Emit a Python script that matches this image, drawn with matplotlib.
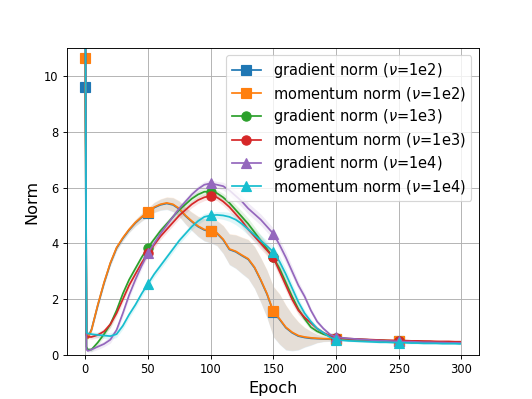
import numpy as np
import matplotlib
matplotlib.use("Agg")
import matplotlib.pyplot as plt

epochs = [0, 1, 2] + list(range(5, 300, 5)) + [299]
marker_epochs = [0, 50, 100, 150, 200, 250]

grad_1e2 = [9.6, 0.72, 0.62, 0.92, 1.78, 2.58, 3.28, 3.83, 4.18, 4.48,
            4.73, 4.93, 5.1, 5.28, 5.38, 5.43, 5.38, 5.23, 4.98, 4.78,
            4.6, 4.48, 4.43, 4.36, 4.13, 3.78, 3.7, 3.56, 3.43, 3.13,
            2.68, 2.18, 1.55, 1.28, 0.98, 0.8, 0.68, 0.63, 0.6, 0.59,
            0.58, 0.57, 0.57,
            0.56, 0.55, 0.54, 0.54, 0.53, 0.52, 0.52, 0.51, 0.5, 0.49,
            0.49, 0.49, 0.48, 0.48, 0.47, 0.47, 0.46, 0.46, 0.45, 0.45]
mom_1e2 = [10.65, 0.75, 0.6, 0.9, 1.8, 2.6, 3.3, 3.85, 4.2, 4.5,
           4.75, 4.95, 5.12, 5.3, 5.4, 5.45, 5.4, 5.25, 5.0, 4.8,
           4.62, 4.5, 4.45, 4.38, 4.15, 3.8, 3.72, 3.58, 3.45, 3.15,
           2.7, 2.2, 1.57, 1.3, 1.0, 0.82, 0.7, 0.65, 0.62, 0.6,
           0.59, 0.58, 0.58,
           0.57, 0.56, 0.55, 0.55, 0.54, 0.53, 0.53, 0.52, 0.51, 0.5,
           0.5, 0.5, 0.49, 0.49, 0.48, 0.48, 0.47, 0.47, 0.46, 0.46]
grad_1e3 = [14.0, 0.3, 0.2, 0.2, 0.45, 0.75, 1.1, 1.6, 2.2, 2.7,
            3.1, 3.5, 3.85, 4.15, 4.45, 4.7, 4.95, 5.2, 5.4, 5.6,
            5.75, 5.85, 5.85, 5.8, 5.65, 5.45, 5.2, 4.95, 4.7, 4.4,
            4.1, 3.8, 3.5, 3.1, 2.6, 2.1, 1.65, 1.3, 1.0, 0.85,
            0.75, 0.68, 0.62,
            0.6, 0.58, 0.57, 0.56, 0.55, 0.54, 0.53, 0.52, 0.51, 0.5,
            0.5, 0.49, 0.49, 0.48, 0.48, 0.47, 0.47, 0.46, 0.46, 0.45]
mom_1e3 = [14.0, 0.7, 0.65, 0.65, 0.72, 0.85, 1.1, 1.5, 2.0, 2.5,
           2.9, 3.3, 3.65, 3.95, 4.25, 4.5, 4.75, 5.0, 5.2, 5.4,
           5.55, 5.65, 5.7, 5.65, 5.5, 5.3, 5.05, 4.8, 4.5, 4.25,
           4.0, 3.75, 3.5, 3.0, 2.5, 2.0, 1.6, 1.35, 1.15, 0.95,
           0.8, 0.7, 0.62,
           0.6, 0.59, 0.58, 0.57, 0.56, 0.55, 0.54, 0.53, 0.53, 0.52,
           0.52, 0.51, 0.51, 0.5, 0.5, 0.49, 0.49, 0.49, 0.48, 0.48]
grad_1e4 = [14.0, 0.2, 0.15, 0.2, 0.3, 0.4, 0.55, 0.9, 1.5, 2.15,
            2.7, 3.2, 3.65, 4.0, 4.35, 4.65, 4.95, 5.25, 5.5, 5.75,
            5.95, 6.1, 6.15, 6.1, 6.05, 5.9, 5.7, 5.5, 5.25, 5.05,
            4.85, 4.6, 4.35, 3.95, 3.5, 3.0, 2.5, 2.1, 1.6, 1.2,
            0.95, 0.75, 0.65,
            0.62, 0.6, 0.58, 0.56, 0.55, 0.53, 0.52, 0.51, 0.5, 0.49,
            0.48, 0.48, 0.47, 0.46, 0.46, 0.45, 0.45, 0.44, 0.44, 0.44]
mom_1e4 = [14.0, 0.8, 0.78, 0.75, 0.72, 0.7, 0.68, 0.75, 1.05, 1.45,
           1.8, 2.2, 2.55, 2.9, 3.2, 3.5, 3.8, 4.1, 4.35, 4.6,
           4.8, 4.95, 5.0, 5.02, 5.0, 4.95, 4.85, 4.7, 4.5, 4.3,
           4.1, 3.9, 3.7, 3.35, 2.9, 2.4, 1.9, 1.5, 1.2, 0.95,
           0.8, 0.65, 0.55,
           0.53, 0.51, 0.5, 0.49, 0.48, 0.47, 0.46, 0.46, 0.45, 0.44,
           0.44, 0.43, 0.43, 0.42, 0.42, 0.42, 0.41, 0.41, 0.41, 0.4]

spread_1e2 = [0, 0, 0.05, 0.1, 0.1, 0.1, 0.1, 0.1, 0.1, 0.1,
              0.12, 0.14, 0.15, 0.18, 0.2, 0.22, 0.25, 0.28, 0.3, 0.33,
              0.36, 0.4, 0.42, 0.45, 0.5, 0.55, 0.6, 0.65, 0.7, 0.75,
              0.8, 0.85, 0.9, 0.9, 0.8, 0.65, 0.5, 0.35, 0.25, 0.15,
              0.1, 0.08, 0.06,
              0.04, 0.04, 0.04, 0.04, 0.04, 0.04, 0.04, 0.04, 0.04, 0.04,
              0.04, 0.04, 0.04, 0.04, 0.04, 0.04, 0.04, 0.04, 0.04, 0.04]
spread_small = [0, 0, 0.05, 0.08, 0.1, 0.1, 0.12, 0.12, 0.12, 0.12,
                0.12, 0.12, 0.12, 0.12, 0.12, 0.12, 0.12, 0.12, 0.12, 0.12,
                0.12, 0.12, 0.12, 0.12, 0.14, 0.16, 0.18, 0.2, 0.2, 0.2,
                0.2, 0.2, 0.2, 0.2, 0.2, 0.18, 0.15, 0.12, 0.1, 0.08,
                0.06, 0.05, 0.05,
                0.03, 0.03, 0.03, 0.03, 0.03, 0.03, 0.03, 0.03, 0.03, 0.03,
                0.03, 0.03, 0.03, 0.03, 0.03, 0.03, 0.03, 0.03, 0.03, 0.03]

labels = [r"gradient norm ($\nu$=1e2)", r"momentum norm ($\nu$=1e2)",
          r"gradient norm ($\nu$=1e3)", r"momentum norm ($\nu$=1e3)",
          r"gradient norm ($\nu$=1e4)", r"momentum norm ($\nu$=1e4)"]
colors = ["#1f77b4", "#ff7f0e", "#2ca02c", "#d62728", "#9467bd", "#17becf"]
markers = ["s", "s", "o", "o", "^", "^"]
values = [grad_1e2, mom_1e2, grad_1e3, mom_1e3, grad_1e4, mom_1e4]
spreads = [spread_1e2, spread_1e2, spread_small, spread_small, spread_small, spread_small]

fig, ax = plt.subplots(figsize=(6.4, 4.8), dpi=83.125)
x = np.array(epochs)
mark_idx = [epochs.index(m) for m in marker_epochs]
for lab, col, mk, y, s in zip(labels, colors, markers, values, spreads):
    y = np.array(y)
    s = np.array(s)
    ax.fill_between(x, y - s, y + s, color=col, alpha=0.13, linewidth=0)
    ax.plot(x, y, color=col, marker=mk, markevery=mark_idx, markersize=8,
            linewidth=1.5, label=lab)

ax.set_ylim(0, 11)
ax.set_xlabel("Epoch", fontsize=14)
ax.set_ylabel("Norm", fontsize=14)
ax.grid(True)
ax.legend(loc="upper right", fontsize=12.7, labelspacing=0.32)
fig.savefig("out.png", dpi=83.125)
